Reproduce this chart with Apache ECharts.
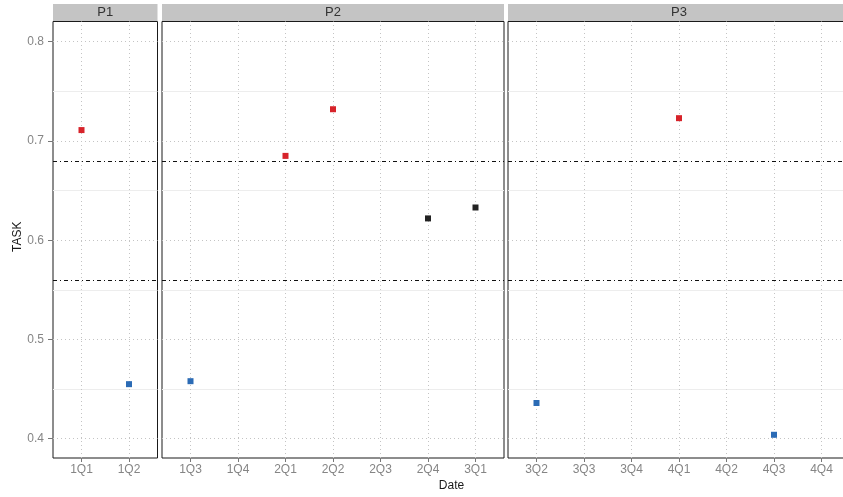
<!DOCTYPE html>
<html>
<head>
<meta charset="utf-8">
<script src="https://cdn.jsdelivr.net/npm/echarts@6/dist/echarts.min.js"></script>
<style>
  html, body { margin: 0; padding: 0; background: #fff; }
  #chart { width: 843px; height: 497px; }
</style>
</head>
<body>
<div id="chart"></div>
<script>
// Facet panels and the quarters shown in each
const panelNames = ['P1', 'P2', 'P3'];
const panelDates = [
  ['1Q1', '1Q2'],
  ['1Q3', '1Q4', '2Q1', '2Q2', '2Q3', '2Q4', '3Q1'],
  ['3Q2', '3Q3', '3Q4', '4Q1', '4Q2', '4Q3', '4Q4']
];

// Observed TASK scores
const obsDates = ['1Q1', '1Q2', '1Q3', '2Q1', '2Q2', '2Q4', '3Q1', '3Q2', '4Q1', '4Q3'];
const obsTask  = [0.711, 0.455, 0.458, 0.685, 0.732, 0.622, 0.633, 0.436, 0.723, 0.404];
const obsBand  = ['high', 'low', 'low', 'high', 'high', 'mid', 'mid', 'low', 'high', 'low'];

// Control limits (dot-dash reference lines)
const limits = [0.68, 0.56];

// Y axis tick values
const yMajor = [0.4, 0.5, 0.6, 0.7, 0.8];
const yMinor = [0.45, 0.55, 0.65, 0.75];

const bandColor = { high: '#D7232A', mid: '#222222', low: '#2B6BB5' };

// Panel geometry (px)
const unit = 47.5;          // width of one quarter
const pad = 0.6;            // discrete-axis padding in units
const panelTop = 21.5, panelBottom = 458;
const panelLefts = [53, 162, 508];
const stripTop = 4;
const yMin = 0.3806, yMax = 0.8204;

const font = 'Liberation Sans, Arial, sans-serif';

const grids = [], xAxes = [], yAxes = [], series = [], graphics = [];

panelNames.forEach((name, p) => {
  const cats = panelDates[p];
  const width = (cats.length - 1 + 2 * pad) * unit;
  const idx = cats.map((_, i) => i);

  grids.push({
    left: panelLefts[p], top: panelTop, width: width, height: panelBottom - panelTop,
    outerBoundsMode: 'none', containLabel: false,
    show: true, borderColor: '#1a1a1a', borderWidth: 1, backgroundColor: '#fff'
  });

  xAxes.push({
    type: 'value', gridIndex: p, min: -pad, max: cats.length - 1 + pad,
    axisLine: { show: false, onZero: false },
    axisTick: { show: true, customValues: idx, length: 4, lineStyle: { color: '#777', width: 1 } },
    axisLabel: {
      customValues: idx, margin: 6, color: '#858585', fontSize: 12, fontFamily: font,
      formatter: v => cats[Math.round(v)]
    },
    splitLine: { show: false }
  });

  yAxes.push({
    type: 'value', gridIndex: p, min: yMin, max: yMax,
    axisLine: { show: false, onZero: false },
    axisTick: { show: p === 0, customValues: yMajor, length: 5, lineStyle: { color: '#777', width: 1 } },
    axisLabel: {
      show: p === 0, customValues: yMajor, margin: 9, color: '#858585', fontSize: 12, fontFamily: font,
      formatter: v => v.toFixed(1)
    },
    splitLine: { show: false }
  });

  // Gridlines: minor (solid, faint) and major (dotted), horizontal and vertical
  const gridLines = [];
  yMinor.forEach(v => gridLines.push({ yAxis: v, lineStyle: { color: '#EDEDED', type: 'solid', width: 1 } }));
  yMajor.forEach(v => gridLines.push({ yAxis: v, lineStyle: { color: '#C4C4C4', type: [1, 3], width: 1 } }));
  idx.forEach(v => gridLines.push({ xAxis: v, lineStyle: { color: '#C4C4C4', type: [1, 3], width: 1 } }));
  series.push({
    type: 'line', xAxisIndex: p, yAxisIndex: p, data: [], silent: true, z: 1,
    markLine: { silent: true, symbol: 'none', label: { show: false }, animation: false, data: gridLines }
  });

  // Control limit lines
  series.push({
    type: 'line', xAxisIndex: p, yAxisIndex: p, data: [], silent: true, z: 2,
    markLine: {
      silent: true, symbol: 'none', label: { show: false }, animation: false,
      lineStyle: { color: '#111', type: [4, 3, 1, 3], width: 1.2 },
      data: limits.map(v => ({ yAxis: v }))
    }
  });

  // Observations in this panel
  const pts = [];
  obsDates.forEach((d, i) => {
    const k = cats.indexOf(d);
    if (k >= 0) pts.push({ value: [k, obsTask[i]], itemStyle: { color: bandColor[obsBand[i]], opacity: 1 } });
  });
  series.push({
    type: 'scatter', xAxisIndex: p, yAxisIndex: p, symbol: 'rect', symbolSize: 6,
    itemStyle: { opacity: 1 }, data: pts, z: 5, animation: false
  });

  // Facet strip
  graphics.push({
    type: 'rect', shape: { x: panelLefts[p], y: stripTop, width: width, height: panelTop - stripTop - 0.5 },
    style: { fill: '#C4C4C4' }, z: 10
  });
  graphics.push({
    type: 'text', x: panelLefts[p] + width / 2, y: (stripTop + panelTop) / 2,
    style: { text: name, fill: '#333', font: '13px ' + font, align: 'center', verticalAlign: 'middle' }, z: 11
  });
});

// Axis titles
const plotLeft = panelLefts[0];
const plotRight = panelLefts[2] + (panelDates[2].length - 1 + 2 * pad) * unit;
graphics.push({
  type: 'text', x: (plotLeft + plotRight) / 2, y: 486,
  style: { text: 'Date', fill: '#1a1a1a', font: '12px ' + font, align: 'center', verticalAlign: 'middle' }
});
graphics.push({
  type: 'text', x: 18, y: (panelTop + panelBottom) / 2 - 3, rotation: Math.PI / 2,
  style: { text: 'TASK', fill: '#1a1a1a', font: '12px ' + font, align: 'center', verticalAlign: 'middle' }
});

const chart = echarts.init(document.getElementById('chart'), null, { renderer: 'canvas' });
chart.setOption({
  animation: false,
  backgroundColor: '#fff',
  grid: grids,
  xAxis: xAxes,
  yAxis: yAxes,
  series: series,
  graphic: graphics
});
</script>
</body>
</html>
